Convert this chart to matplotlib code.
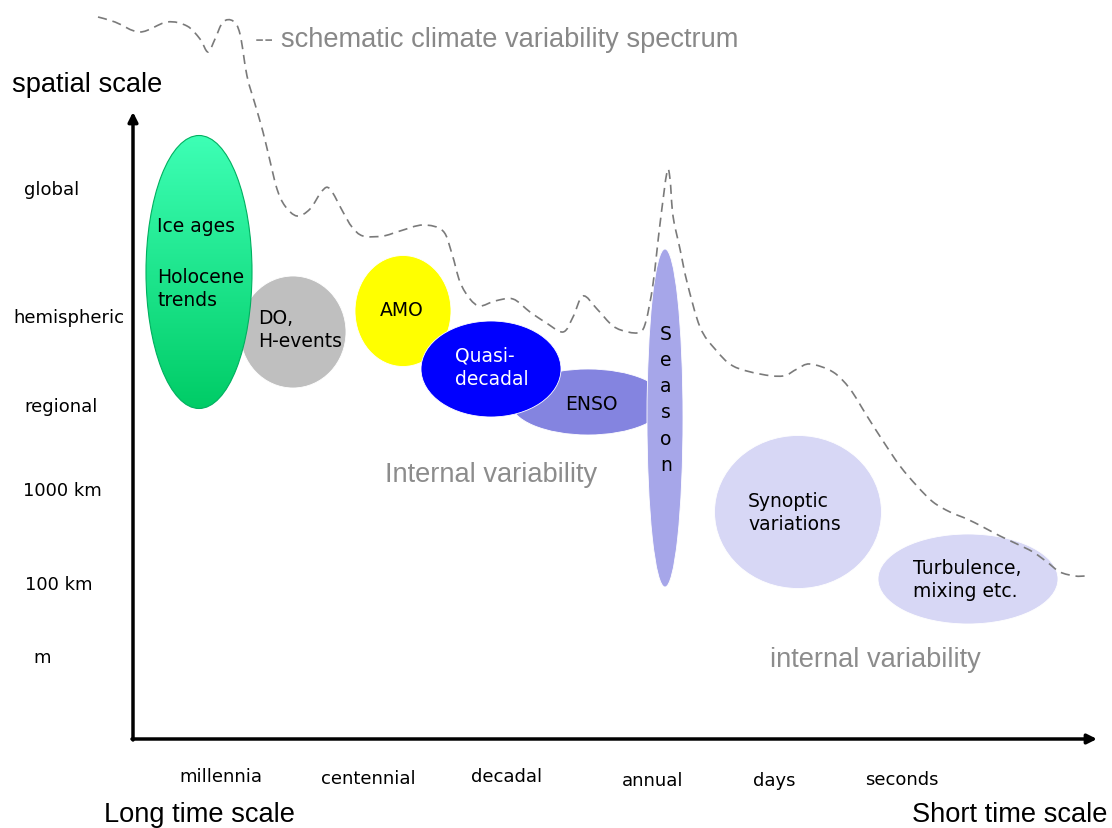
import matplotlib.pyplot as plt
import numpy as np
from matplotlib.patches import Ellipse, PathPatch
from matplotlib.path import Path

# schematic spectrum curve (pixel coords)
curve_x = [98, 115, 140, 167, 187, 200, 208, 215, 223, 233, 240, 247, 255, 263, 270, 277,
           285, 297, 310, 322, 330, 343, 352, 363, 383, 400, 423, 443, 452, 460, 470, 480,
           495, 513, 530, 545, 563, 573, 583, 597, 613, 628, 640, 646, 653, 660, 667, 670,
           673, 680, 687, 700, 715, 733, 760, 783, 797, 810, 833, 850, 867, 883, 900, 917,
           933, 950, 967, 983, 1000, 1017, 1033, 1047, 1060, 1075, 1085]
curve_y = [18, 23, 33, 23, 27, 40, 53, 40, 23, 22, 35, 77, 105, 133, 162, 190,
           207, 217, 210, 192, 190, 213, 228, 237, 237, 232, 226, 232, 255, 283, 300, 307,
           302, 300, 313, 323, 333, 318, 297, 310, 327, 333, 333, 322, 285, 225, 173, 180,
           217, 250, 283, 328, 350, 367, 375, 377, 370, 365, 373, 390, 417, 442, 467, 487,
           503, 513, 520, 528, 537, 545, 553, 563, 573, 577, 577]

# variability modes: centre x, centre y, width, height
mode_names = ["DO", "Ice ages", "AMO", "ENSO", "Quasi-decadal", "Season", "Synoptic", "Turbulence"]
mode_cx = [293, 199, 403, 588, 491, 665, 798, 968]
mode_cy = [333, 273, 312, 403, 370, 419, 513, 580]
mode_w = [106, 106, 96, 155, 140, 36, 167, 180]
mode_h = [112, 273, 111, 66, 96, 338, 153, 90]
mode_colors = ["#bfbfbf", None, "#ffff00", "#8484e0", "#0000ff", "#a6a6e9", "#d7d7f5", "#d7d7f5"]

spatial_labels = ["global", "hemispheric", "regional", "1000 km", "100 km", "m"]
spatial_x = [24, 13, 24, 23, 25, 33]
spatial_y = [190, 318, 407, 491, 585, 658]

time_labels = ["millennia", "centennial", "decadal", "annual", "days", "seconds"]
time_x = [221, 368, 507, 653, 774, 902]
time_y = [777, 779, 777, 781, 781, 780]


def smooth_path(xs, ys):
    """Catmull-Rom through the points, written as cubic Bezier segments."""
    p = np.column_stack([xs, ys]).astype(float)
    p = np.vstack([p[0], p, p[-1]])
    verts = [p[1]]
    codes = [Path.MOVETO]
    for i in range(1, len(p) - 2):
        c1 = p[i] + (p[i + 1] - p[i - 1]) / 6
        c2 = p[i + 1] - (p[i + 2] - p[i]) / 6
        verts += [c1, c2, p[i + 1]]
        codes += [Path.CURVE4] * 3
    return Path(verts, codes)


fig = plt.figure(figsize=(11.12, 8.29), dpi=100)
ax = fig.add_axes([0, 0, 1, 1])
ax.set_xlim(0, 1112)
ax.set_ylim(829, 0)
ax.axis("off")

small = dict(family="DejaVu Sans", fontsize=13)
big = dict(family=["Liberation Sans", "DejaVu Sans"], fontsize=19.6)

for name, cx, cy, w, h, c in zip(mode_names, mode_cx, mode_cy, mode_w, mode_h, mode_colors):
    if name == "Ice ages":
        ell = Ellipse((cx, cy), w, h, fc="none", ec="#00b060", lw=0.8, zorder=3)
        ax.add_patch(ell)
        top = np.array([0.24, 1.0, 0.71])
        bot = np.array([0.0, 0.80, 0.40])
        t = np.linspace(0, 1, 256)[:, None, None]
        grad = top * (1 - t) + bot * t
        im = ax.imshow(grad, extent=(cx - w / 2, cx + w / 2, cy + h / 2, cy - h / 2),
                       origin="upper", aspect="auto", zorder=2)
        im.set_clip_path(ell)
    else:
        ax.add_patch(Ellipse((cx, cy), w, h, fc=c, ec="white", lw=0.6, zorder=2))

ax.set_xlim(0, 1112)
ax.set_ylim(829, 0)

# dashed spectrum
ax.add_patch(PathPatch(smooth_path(curve_x, curve_y), fc="none", ec="#7a7a7a",
                       lw=1.2, ls=(0, (5.5, 3.5)), zorder=5))

# axes arrows
arrow = dict(arrowstyle="-|>", lw=2.5, color="black", mutation_scale=14, shrinkA=0, shrinkB=0)
ax.annotate("", xy=(133, 113), xytext=(133, 741), arrowprops=arrow, zorder=6)
ax.annotate("", xy=(1097, 740), xytext=(132, 740), arrowprops=arrow, zorder=6)

# labels inside ellipses
lab = dict(family="DejaVu Sans", fontsize=13.5, linespacing=1.3, zorder=7)
ax.text(157, 226, "Ice ages", ha="left", va="center", **lab)
ax.text(157, 289, "Holocene\ntrends", ha="left", va="center", **lab)
ax.text(258, 330, "DO,\nH-events", ha="left", va="center", **lab)
ax.text(402, 310, "AMO", ha="center", va="center", **lab)
ax.text(455, 368, "Quasi-\ndecadal", ha="left", va="center", color="white", **lab)
ax.text(591, 404, "ENSO", ha="center", va="center", **lab)
for i, ch in enumerate("Season"):
    ax.text(666, 334 + i * 26.3, ch, ha="center", va="center", **lab)
ax.text(748, 513, "Synoptic\nvariations", ha="left", va="center", **lab)
ax.text(913, 580, "Turbulence,\nmixing etc.", ha="left", va="center", **lab)

for s, x, y in zip(spatial_labels, spatial_x, spatial_y):
    ax.text(x, y, s, ha="left", va="center", **small)
for s, x, y in zip(time_labels, time_x, time_y):
    ax.text(x, y, s, ha="center", va="center", **small)

ax.text(12, 85, "spatial scale", ha="left", va="center", **big)
ax.text(255, 40, "-- schematic climate variability spectrum", ha="left", va="center",
        color="#888888", **big)
ax.text(491, 475, "Internal variability", ha="center", va="center", color="#8c8c8c", **big)
ax.text(875, 660, "internal variability", ha="center", va="center", color="#8c8c8c", **big)
ax.text(104, 815, "Long time scale", ha="left", va="center", **big)
ax.text(912, 815, "Short time scale", ha="left", va="center", **big)

fig.savefig("out.png", dpi=100)
